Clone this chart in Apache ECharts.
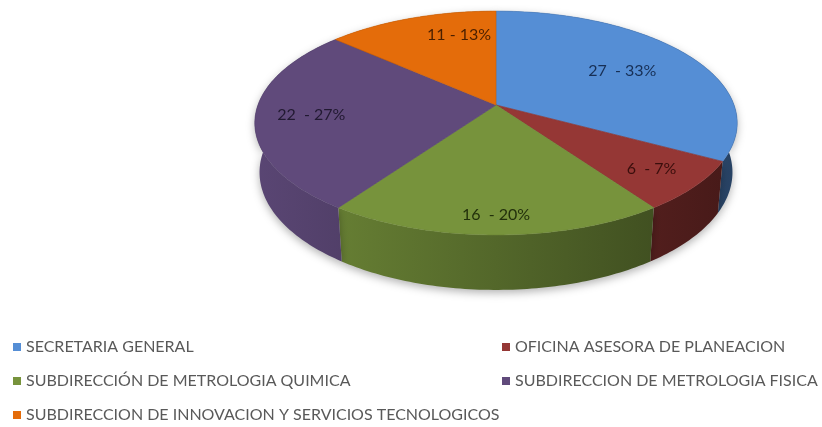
<!DOCTYPE html>
<html>
<head>
<meta charset="utf-8">
<script src="https://cdn.jsdelivr.net/npm/echarts@6/dist/echarts.min.js"></script>
<style>
  html, body { margin: 0; padding: 0; background: #fff; }
  #chart { width: 822px; height: 427px; }
</style>
</head>
<body>
<div id="chart"></div>
<script>
// datos
const categories = [
  'SECRETARIA GENERAL',
  'OFICINA ASESORA DE PLANEACION',
  'SUBDIRECCIÓN DE METROLOGIA QUIMICA',
  'SUBDIRECCION DE METROLOGIA FISICA',
  'SUBDIRECCION DE INNOVACION Y SERVICIOS TECNOLOGICOS'
]
const values = [27, 6, 16, 22, 11]
const labelSpacing = ['  ', '  ', '  ', '  ', ' ']

// estilos
const colors = ['#558ed5', '#953735', '#77933c', '#604a7b', '#e46c0a']
const labelColors = ['#172f55', '#3a0e0c', '#22300b', '#211931', '#4a1f00']
const labelPlace = [[0.65, 0.5], [0.8, 0.5], [0.87, 0.5], [0.77, 0.5], [0.74, 0.72]]

const total = values.reduce((a, b) => a + b, 0)

// proyección en perspectiva del pastel 3D
const CX = 496, CY = 105
const SIN_T = 0.458, COS_T = Math.sqrt(1 - SIN_T * SIN_T)
const DIST = 5.52, FOCAL = 1314, DEPTH = 0.235

const project = (r, deg, y) => {
  const t = deg * Math.PI / 180
  const X = r * Math.sin(t), Z = -r * Math.cos(t)
  const yv = y * COS_T - Z * SIN_T
  const zv = y * SIN_T + Z * COS_T
  const s = FOCAL / (DIST - zv)
  return [CX + X * s, CY - yv * s]
}

const arc = (a0, a1, y) => {
  const pts = []
  const n = Math.max(2, Math.ceil(Math.abs(a1 - a0)))
  for (let i = 0; i <= n; i++) pts.push(project(1, a0 + (a1 - a0) * i / n, y))
  return pts
}

const shade = (hex, f) => {
  const n = parseInt(hex.slice(1), 16)
  const c = [(n >> 16) & 255, (n >> 8) & 255, n & 255].map(v => Math.round(v * f))
  return 'rgb(' + c.join(',') + ')'
}

const sliceAngles = (idx) => {
  let before = 0
  for (let i = 0; i < idx; i++) before += values[i]
  return [before / total * 360, (before + values[idx]) / total * 360]
}

const renderSlice = (params, api) => {
  const idx = params.seriesIndex
  const [a0, a1] = sliceAngles(idx)
  const color = colors[idx]
  const top = [project(0, 0, 0)].concat(arc(a0, a1, 0))
  const wall = arc(a0, a1, 0).concat(arc(a0, a1, -DEPTH).reverse())
  const [lr, lf] = labelPlace[idx]
  const lp = project(lr, a0 + (a1 - a0) * lf, 0)
  const pct = Math.round(values[idx] / total * 100)
  return {
    type: 'group',
    children: [
      {
        type: 'polygon',
        z2: 1,
        shape: { points: wall },
        style: {
          fill: {
            type: 'linear', global: true,
            x: CX - 245, y: 0, x2: CX + 245, y2: 0,
            colorStops: [
              { offset: 0, color: shade(color, 0.94) },
              { offset: 0.5, color: shade(color, 0.7) },
              { offset: 1, color: shade(color, 0.46) }
            ]
          },
          shadowBlur: 8,
          shadowOffsetY: 3,
          shadowColor: 'rgba(0,0,0,0.3)'
        }
      },
      {
        type: 'polygon',
        z2: 10,
        shape: { points: top },
        style: { fill: color, stroke: shade(color, 0.9), lineWidth: 0.6 }
      },
      {
        type: 'text',
        z2: 20,
        x: lp[0],
        y: lp[1],
        style: {
          text: api.value(0) + labelSpacing[idx] + '- ' + pct + '%',
          fill: labelColors[idx],
          font: '16px Lato, "Open Sans", sans-serif',
          align: 'center',
          verticalAlign: 'middle'
        }
      }
    ]
  }
}

const chart = echarts.init(document.getElementById('chart'))

const legendBase = {
  orient: 'vertical',
  top: 339,
  padding: 0,
  icon: 'rect',
  itemWidth: 8,
  itemHeight: 8,
  itemGap: 18,
  textStyle: { fontSize: 16, lineHeight: 16, color: '#595959', fontFamily: 'Lato, "Open Sans", sans-serif' }
}

const option = {
  animation: false,
  legend: [
    Object.assign({}, legendBase, { left: 13, data: [categories[0], categories[2], categories[4]] }),
    Object.assign({}, legendBase, { left: 502, data: [categories[1], categories[3]] })
  ],
  series: categories.map((name, i) => ({
    name: name,
    type: 'custom',
    coordinateSystem: 'none',
    itemStyle: { color: colors[i] },
    data: [[values[i]]],
    renderItem: renderSlice
  }))
}

chart.setOption(option)
</script>
</body>
</html>
